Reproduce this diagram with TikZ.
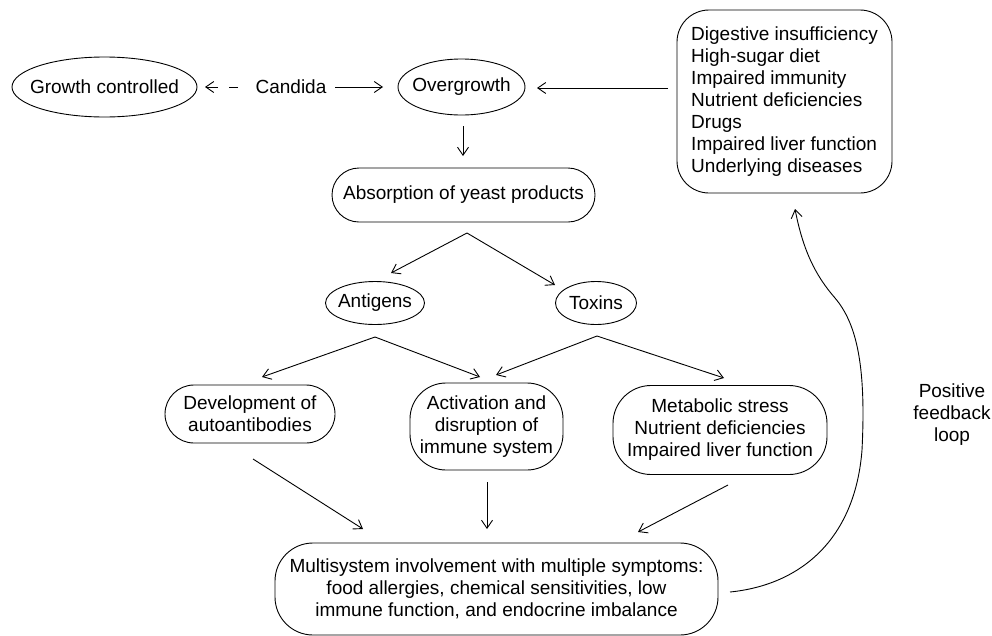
\documentclass[tikz,border=0pt]{standalone}
\usepackage{fontspec}
\setmainfont{Liberation Sans}
\usetikzlibrary{shapes.geometric,arrows.meta,calc}

\begin{document}
\begin{tikzpicture}[x=1pt,y=-1pt,
  every node/.style={font=\fontsize{19}{22}\selectfont},
  oval/.style={ellipse,draw,line width=0.9pt,inner sep=0pt},
  rbox/.style={draw,line width=0.9pt,align=center,inner sep=0pt},
  arr/.style={-{Straight Barb[length=8pt,width=11pt]},line width=0.9pt},
]
\useasboundingbox (0,0) rectangle (992,635);

% top row (oval labels sit in zero-width boxes so the ellipse keeps its set size)
\node[oval,minimum width=185pt,minimum height=60pt] (gc) at (104.5,87) {\makebox[0pt]{Growth controlled}};
\node (candida) at (291,87) {Candida};
\node[oval,minimum width=127pt,minimum height=56pt] (og) at (461.5,87) {\makebox[0pt]{Overgrowth}};
\node[rbox,align=left,minimum width=215pt,minimum height=183pt,rounded corners=32pt] (factors) at (784.5,101.5)
  {Digestive insufficiency\\High-sugar diet\\Impaired immunity\\Nutrient deficiencies\\Drugs\\Impaired liver function\\Underlying diseases};

% middle
\node[rbox,minimum width=263pt,minimum height=54pt,rounded corners=27pt] (abs) at (463.5,195) {Absorption of yeast products};
\node[oval,minimum width=99pt,minimum height=43pt] (ant) at (375,303) {\makebox[0pt]{Antigens}};
\node[oval,minimum width=81pt,minimum height=43pt] (tox) at (596,303) {\makebox[0pt]{Toxins}};

\node[rbox,minimum width=170pt,minimum height=58pt,rounded corners=29pt] (dev) at (250,414) {Development of\\autoantibodies};
\node[rbox,minimum width=153pt,minimum height=87pt,rounded corners=36pt] (act) at (486.5,426.5) {Activation and\\disruption of\\immune system};
\node[rbox,minimum width=214pt,minimum height=89pt,rounded corners=38pt] (met) at (720,430) {Metabolic stress\\Nutrient deficiencies\\Impaired liver function};

\node[rbox,minimum width=443pt,minimum height=92pt,rounded corners=38pt] (multi) at (496.5,589)
  {Multisystem involvement with multiple symptoms:\\food allergies, chemical sensitivities, low\\immune function, and endocrine imbalance};

\node[align=center] (loop) at (952,415) {Positive\\feedback\\loop};

% fork points and free arrow ends
\coordinate (dashstart) at (238,87);
\coordinate (dashend) at (205,87);
\coordinate (candout) at (335,87);
\coordinate (ogin) at (383,87);
\coordinate (factout) at (668,88);
\coordinate (ogright) at (537,88);
\coordinate (ogout) at (463,126);
\coordinate (absin) at (463,156);
\coordinate (absfork) at (467,233);
\coordinate (antend) at (391,273);
\coordinate (toxend) at (555,285);
\coordinate (antfork) at (375,337);
\coordinate (devend) at (262,377);
\coordinate (actendL) at (480,377);
\coordinate (toxfork) at (597,336);
\coordinate (actendR) at (496,375);
\coordinate (metend) at (724,378);
\coordinate (devout) at (253,459);
\coordinate (multiL) at (363,529);
\coordinate (actout) at (487,482);
\coordinate (multiM) at (487,529);
\coordinate (metout) at (728,485);
\coordinate (multiR) at (638,532);
\coordinate (fbstart) at (730,592);
\coordinate (fbend) at (795,209);

% connectors
\draw[arr,dash pattern=on 9pt off 11pt on 30pt] (dashstart) -- (dashend);
\draw[arr] (candout) -- (ogin);
\draw[arr] (factout) -- (ogright);
\draw[arr] (ogout) -- (absin);

\draw[arr] (absfork) -- (antend);
\draw[arr] (absfork) -- (toxend);
\draw[arr] (antfork) -- (devend);
\draw[arr] (antfork) -- (actendL);
\draw[arr] (toxfork) -- (actendR);
\draw[arr] (toxfork) -- (metend);

\draw[arr] (devout) -- (multiL);
\draw[arr] (actout) -- (multiM);
\draw[arr] (metout) -- (multiR);

% feedback loop
\draw[arr] (fbstart) .. controls (800,585) and (855,540) .. (862,450)
  .. controls (866,370) and (858,325) .. (835,298)
  .. controls (815,275) and (803,250) .. (fbend);
\end{tikzpicture}
\end{document}
